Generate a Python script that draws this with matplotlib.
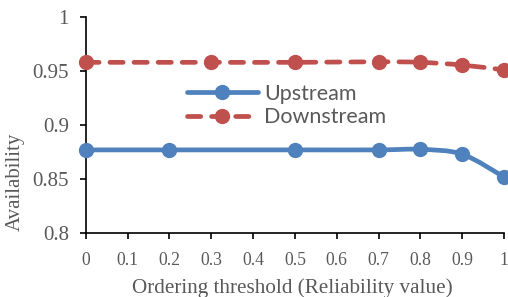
import numpy as np
import matplotlib
matplotlib.use("Agg")
import matplotlib.pyplot as plt
from matplotlib.path import Path
from matplotlib.patches import PathPatch
from matplotlib.lines import Line2D

up_x = [0, 0.2, 0.5, 0.7, 0.8, 0.9, 1.0]
up_y = [0.877, 0.877, 0.877, 0.877, 0.8775, 0.873, 0.852]
down_x = [0, 0.3, 0.5, 0.7, 0.8, 0.9, 1.0]
down_y = [0.958, 0.958, 0.958, 0.9585, 0.958, 0.9555, 0.951]

x_ticks = [0, 0.1, 0.2, 0.3, 0.4, 0.5, 0.6, 0.7, 0.8, 0.9, 1]
y_ticks = [0.8, 0.85, 0.9, 0.95, 1]

BLUE = "#4f81bd"
RED = "#c0504d"
GRAY = "#595959"


def smooth_path(xs, ys):
    # excel-style smoothed line: bezier segments through the points
    pts = np.column_stack([xs, ys])
    verts = [pts[0]]
    codes = [Path.MOVETO]
    n = len(pts)
    for i in range(n - 1):
        p0 = pts[i - 1] if i > 0 else pts[i]
        p1 = pts[i]
        p2 = pts[i + 1]
        p3 = pts[i + 2] if i + 2 < n else pts[i + 1]
        c1 = p1 + (p2 - p0) / 6
        c2 = p2 - (p3 - p1) / 6
        verts += [c1, c2, p2]
        codes += [Path.CURVE4] * 3
    return Path(verts, codes)


fig = plt.figure(figsize=(5.08, 2.97), dpi=100)
ax = fig.add_axes([0.169, 0.215, 0.823, 0.728])

lw = 3.4
ms = 10
dash = (0, (2.8, 2.3))
ax.add_patch(PathPatch(smooth_path(up_x, up_y), fill=False, color=BLUE, lw=lw,
                       capstyle="round", joinstyle="round", zorder=2))
ax.add_patch(PathPatch(smooth_path(down_x, down_y), fill=False, color=RED, lw=lw,
                       linestyle=dash, capstyle="round", zorder=2))
ax.plot(up_x, up_y, "o", color=BLUE, ms=ms, zorder=3, clip_on=False)
ax.plot(down_x, down_y, "o", color=RED, ms=ms, zorder=3, clip_on=False)

ax.set_xlim(0, 1)
ax.set_ylim(0.8, 1)
ax.set_xticks(x_ticks)
ax.set_xticklabels([f"{t:g}" for t in x_ticks])
ax.set_yticks(y_ticks)
ax.set_yticklabels([f"{t:g}" for t in y_ticks])

for side in ["top", "right"]:
    ax.spines[side].set_visible(False)
for side in ["left", "bottom"]:
    ax.spines[side].set_linewidth(1.2)
ax.tick_params(direction="out", length=4.3, width=1.2, colors="black",
               labelcolor=GRAY)
ax.tick_params(axis="x", labelsize=12.7, pad=9)
ax.tick_params(axis="y", labelsize=15, pad=8)
for lab in ax.get_xticklabels() + ax.get_yticklabels():
    lab.set_family("Liberation Serif")

ax.set_xlabel("Ordering threshold (Reliability value)", family="Liberation Serif",
              fontsize=15.2, color=GRAY, va="baseline")
ax.set_ylabel("Availability", family="Liberation Serif", fontsize=15,
              color=GRAY)
ax.xaxis.set_label_coords(0.495, -0.275)
ax.yaxis.set_label_coords(-0.146, 0.236)

handles = [
    Line2D([], [], color=BLUE, lw=lw, marker="o", ms=ms, solid_capstyle="round"),
    Line2D([], [], color=RED, lw=lw, ls=dash, marker="o", ms=ms,
           dash_capstyle="round"),
]
leg = ax.legend(handles, ["Upstream", "Downstream"], loc="center left",
                bbox_to_anchor=(0.2416, 0.59), frameon=False, borderpad=0,
                borderaxespad=0, handlelength=3.3, handletextpad=0.3,
                labelspacing=0.15, prop={"family": "Lato", "size": 15.5})
for t in leg.get_texts():
    t.set_color(GRAY)

fig.savefig("out.png", dpi=100)
